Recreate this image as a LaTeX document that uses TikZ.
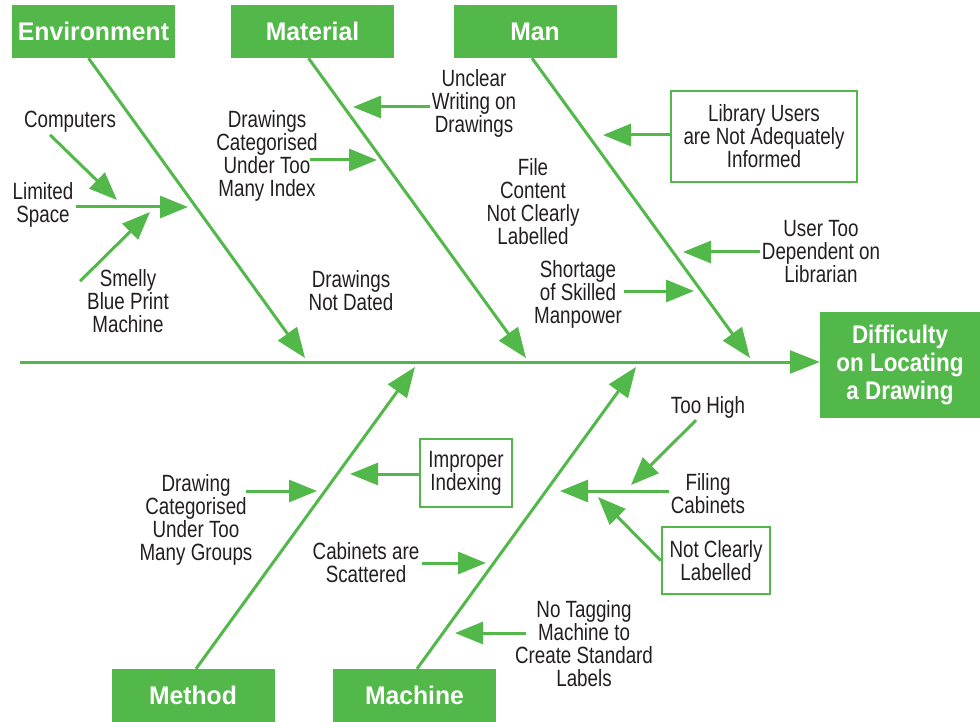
\documentclass[tikz,border=0pt]{standalone}
\usepackage{fontspec}
\setmainfont[FakeStretch=0.8]{Liberation Sans}
\newfontfamily\headfont[FakeStretch=0.97]{Liberation Sans}
\newfontfamily\effectfont[FakeStretch=0.88]{Liberation Sans}
\usetikzlibrary{arrows.meta,calc}

\definecolor{fishgreen}{RGB}{82,184,73}
\definecolor{ink}{RGB}{35,31,32}

\tikzset{
  head/.style={fill=fishgreen, text=white, font=\headfont\bfseries\fontsize{25.5}{28}\selectfont,
    minimum width=163pt, minimum height=53pt, inner sep=0pt},
  cause/.style={text=ink, align=center, inner sep=2pt, font=\fontsize{23.5}{23}\selectfont},
  causebox/.style={cause, draw=fishgreen, line width=2.5pt},
  bone/.style={fishgreen, line width=3pt, -{Triangle[length=30pt,width=23pt]}},
  twig/.style={fishgreen, line width=3pt, -{Triangle[length=28pt,width=22pt]}}
}

\begin{document}
\begin{tikzpicture}[x=1pt,y=-1pt]
\useasboundingbox (0,0) rectangle (980,722);

% Kategorien
\node[head] (env) at (93.5,31.5) {Environment};
\node[head] (mat) at (312.5,31.5) {Material};
\node[head] (man) at (535,31.5) {Man};
\node[head] (meth) at (193,695.5) {Method};
\node[head] (mach) at (414.5,695.5) {Machine};
\node[head, font=\effectfont\bfseries\fontsize{25.5}{28}\selectfont, minimum width=160pt,
  minimum height=106pt, align=center] (effect) at (900,365) {Difficulty\\on Locating\\a Drawing};

% Spitzen am Rückgrat
\coordinate (tail) at (20,362);
\coordinate (tEnv) at (305,358);
\coordinate (tMat) at (526,358);
\coordinate (tMan) at (750,358);
\coordinate (tMeth) at (415,367);
\coordinate (tMach) at (636,367);

% Gräten
\draw[bone] (tail) -- (tail -| effect.west);
\draw[bone] ([xshift=-5pt]env.south) -- (tEnv);
\draw[bone] ([xshift=-4pt]mat.south) -- (tMat);
\draw[bone] ([xshift=-3pt]man.south) -- (tMan);
\draw[bone] ([xshift=3pt]meth.north) -- (tMeth);
\draw[bone] ([xshift=2.5pt]mach.north) -- (tMach);

% Environment
\node[cause] (computers) at (70,122) {Computers};
\node[cause] (limited) at (43,205) {Limited\\Space};
\node[cause] (smelly) at (128,301) {Smelly\\Blue Print\\Machine};
\coordinate (tComp) at (117,200);
\coordinate (tLim) at (188,207);
\coordinate (tSmell) at (150,212);
\draw[twig] ([xshift=-20pt]computers.south) -- (tComp);
\draw[twig] (limited.east |- tLim) -- (tLim);
\draw[twig] ($(smelly.north west)+(-5,14)$) -- (tSmell);

% Material
\node[cause] (drawIdx) at (267,156) {Drawings\\Categorised\\Under Too\\Many Index};
\node[cause] (notDated) at (351,291) {Drawings\\Not Dated};
\node[cause] (unclear) at (474,103) {Unclear\\Writing on\\Drawings};
\node[cause] (fileCont) at (533,202) {File\\Content\\Not Clearly\\Labelled};
\coordinate (tDrawIdx) at (377,160);
\coordinate (tUnclear) at (353,107);
\draw[twig] ($(drawIdx.east |- tDrawIdx)+(-10,0)$) -- (tDrawIdx);
\draw[twig] (unclear.west |- tUnclear) -- (tUnclear);

% Man
\node[causebox, minimum width=186pt, minimum height=91pt] (library) at (764,136.5)
  {Library Users\\are Not Adequately\\Informed};
\node[cause] (user) at (821,252) {User Too\\Dependent on\\Librarian};
\node[cause] (shortage) at (578,294) {Shortage\\of Skilled\\Manpower};
\coordinate (tLib) at (603,135);
\coordinate (tUser) at (683,252);
\coordinate (tShort) at (694,291);
\draw[twig] (library.west |- tLib) -- (tLib);
\draw[twig] (user.west |- tUser) -- (tUser);
\draw[twig] (shortage.east |- tShort) -- (tShort);

% Method
\node[cause] (drawGrp) at (196,520) {Drawing\\Categorised\\Under Too\\Many Groups};
\node[causebox, minimum width=92pt, minimum height=68pt] (improper) at (466,473) {Improper\\Indexing};
\node[cause] (cabinets) at (366,563) {Cabinets are\\Scattered};
\coordinate (tDrawGrp) at (317,491);
\coordinate (tImpr) at (350,474);
\coordinate (tCab) at (486,563);
\draw[twig] ($(drawGrp.east |- tDrawGrp)+(-9,0)$) -- (tDrawGrp);
\draw[twig] (improper.west |- tImpr) -- (tImpr);
\draw[twig] (cabinets.east |- tCab) -- (tCab);

% Machine
\node[cause] (tooHigh) at (708,407) {Too High};
\node[cause] (filing) at (708,494) {Filing\\Cabinets};
\node[causebox, minimum width=108pt, minimum height=67pt] (notClear) at (716,560.5) {Not Clearly\\Labelled};
\node[cause] (noTag) at (584,644) {No Tagging\\Machine to\\Create Standard\\Labels};
\coordinate (tHigh) at (631,485);
\coordinate (tFiling) at (560,491);
\coordinate (tNotCl) at (598,497);
\coordinate (tTag) at (455,633);
\draw[twig] ([xshift=-12pt]tooHigh.south) -- (tHigh);
\draw[twig] (filing.west |- tFiling) -- (tFiling);
\draw[twig] (notClear.west) -- (tNotCl);
\draw[twig] ($(noTag.west |- tTag)+(13,0)$) -- (tTag);
\end{tikzpicture}
\end{document}
